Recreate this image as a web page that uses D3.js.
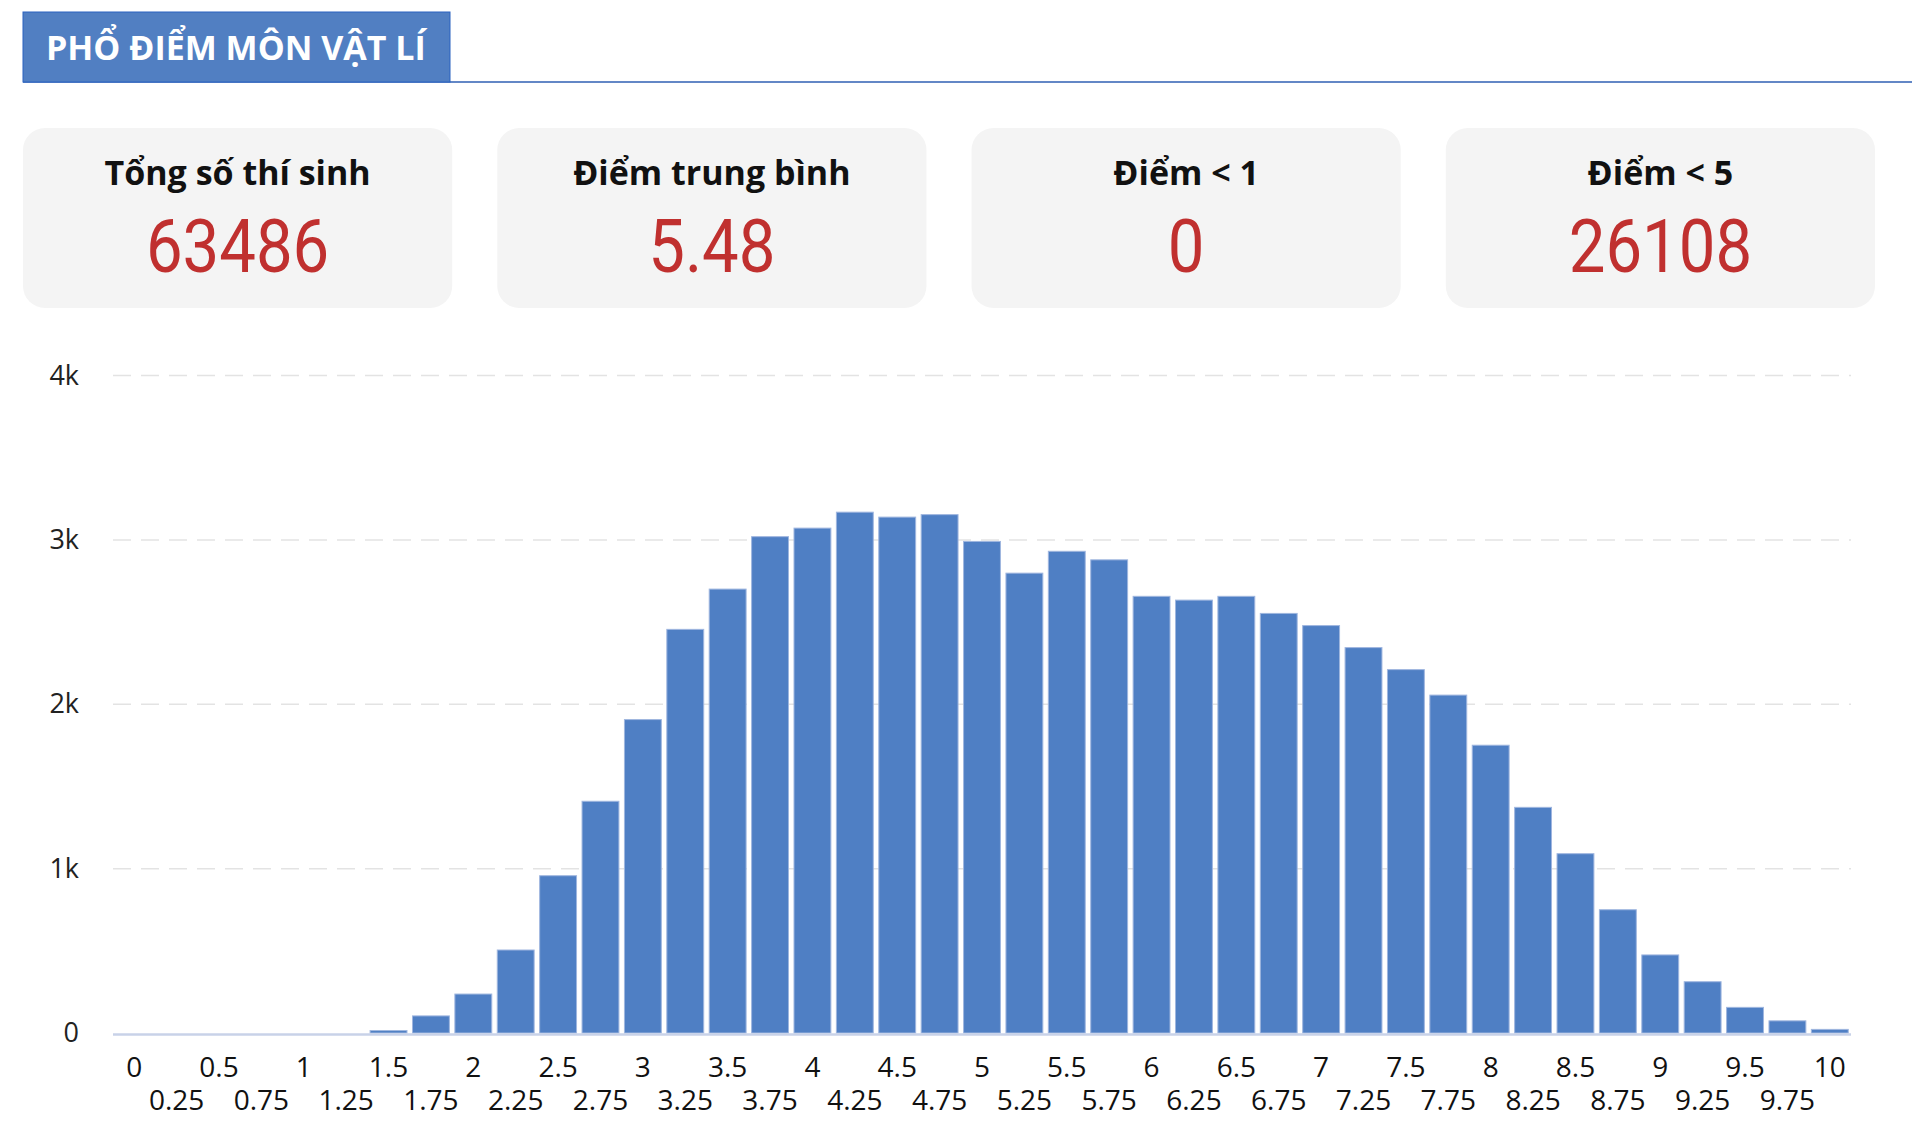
<!DOCTYPE html>
<html><head><meta charset="utf-8">
<script src="https://cdn.jsdelivr.net/npm/d3@7"></script>
<style>
html,body{margin:0;padding:0;background:#fff;}
svg{display:block;font-family:"Open Sans","Noto Sans",sans-serif;}
</style></head>
<body>
<svg id="chart" width="1912" height="1138"></svg>
<script>
const title = "PHỔ ĐIỂM MÔN VẬT LÍ";
const cardLabels = ["Tổng số thí sinh", "Điểm trung bình", "Điểm < 1", "Điểm < 5"];
const cardValues = ["63486", "5.48", "0", "26108"];
const scores = ["0","0.25","0.5","0.75","1","1.25","1.5","1.75","2","2.25","2.5","2.75","3","3.25","3.5","3.75","4","4.25","4.5","4.75","5","5.25","5.5","5.75","6","6.25","6.5","6.75","7","7.25","7.5","7.75","8","8.25","8.5","8.75","9","9.25","9.5","9.75","10"];
const counts = [0,0,0,0,0,0,15,104,237,505,957,1410,1907,2456,2701,3020,3072,3169,3139,3154,2991,2798,2931,2879,2657,2634,2657,2553,2479,2345,2211,2056,1751,1373,1091,750,475,312,156,74,22];
const yTicks = [0,1000,2000,3000,4000];
const yTickLabels = ["0","1k","2k","3k","4k"];

const svg = d3.select("#chart");

// header
svg.append("line").attr("x1",23).attr("x2",1912).attr("y1",82).attr("y2",82)
  .attr("stroke","#2f5fb3").attr("stroke-width",1.5);
svg.append("rect").attr("x",23).attr("y",12).attr("width",427).attr("height",70)
  .attr("fill","#517fc2").attr("stroke","#2a62c0").attr("stroke-width",1);
svg.append("text").attr("x",46).attr("y",60).attr("fill","#fff")
  .attr("font-size",34).attr("font-weight",700).text(title);

// cards
const cardX = d3.scaleBand().domain(d3.range(4)).range([23,1875]).paddingInner(0.095);
const bw = cardX.bandwidth();
const cards = svg.selectAll("g.card").data(cardLabels).join("g").attr("class","card")
  .attr("transform",(d,i)=>`translate(${cardX(i)},128)`);
cards.append("rect").attr("width",bw).attr("height",180).attr("rx",22)
  .attr("fill","#f4f4f4");
cards.append("text").attr("x",bw/2).attr("y",57).attr("text-anchor","middle")
  .attr("font-size",34).attr("font-weight",700).attr("fill","#111").text(d=>d);
cards.append("text").attr("x",bw/2).attr("y",144).attr("text-anchor","middle")
  .attr("font-size",75).attr("fill","#c0302f")
  .style("font-family","Roboto, 'Open Sans', sans-serif")
  .attr("transform",`translate(${bw/2*0.13},0) scale(0.87,1)`)
  .text((d,i)=>cardValues[i]);

// chart
const x = d3.scaleBand().domain(scores).range([113,1851]).paddingInner(0.13).paddingOuter(0.065);
const y = d3.scaleLinear().domain([0,4000]).range([1033,375.6]);

svg.append("g").selectAll("line").data(yTicks.slice(1)).join("line")
  .attr("x1",113).attr("x2",1851).attr("y1",d=>y(d)).attr("y2",d=>y(d))
  .attr("stroke","#e3e3e3").attr("stroke-width",1.5).attr("stroke-dasharray","18,10");

svg.append("g").selectAll("text").data(yTicks).join("text")
  .attr("x",79).attr("y",d=>y(d)+9).attr("text-anchor","end")
  .attr("font-size",27).attr("fill","#222").text((d,i)=>yTickLabels[i]);

svg.append("g").selectAll("rect").data(counts).join("rect")
  .attr("x",(d,i)=>x(scores[i])).attr("width",x.bandwidth())
  .attr("y",d=>y(d)).attr("height",d=>y(0)-y(d))
  .attr("fill","#4f7fc4").attr("stroke","#9fb6df").attr("stroke-width",1);

svg.append("line").attr("x1",113).attr("x2",1851).attr("y1",y(0)+1.5).attr("y2",y(0)+1.5)
  .attr("stroke","#c8d2e8").attr("stroke-width",2.5);

svg.append("g").selectAll("text").data(scores).join("text")
  .attr("x",d=>x(d)+x.bandwidth()/2)
  .attr("y",(d,i)=> i%2===0 ? 1077 : 1110)
  .attr("text-anchor","middle").attr("font-size",28).attr("fill","#111")
  .text(d=>d);
</script>
</body></html>
